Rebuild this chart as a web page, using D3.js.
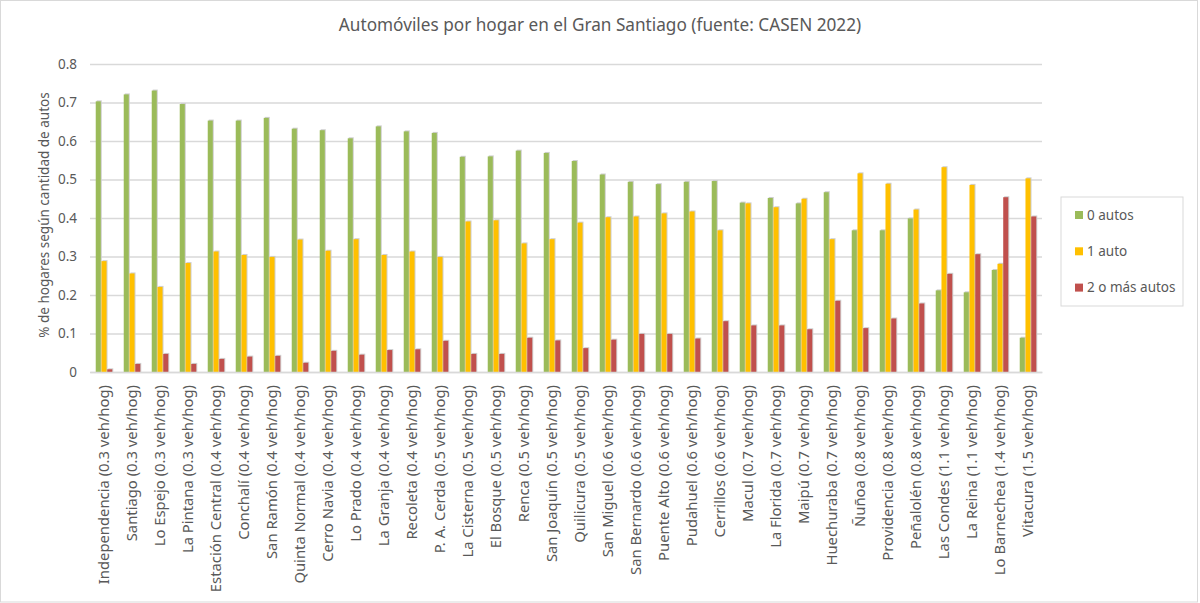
<!DOCTYPE html>
<meta charset="utf-8" />
<script src="https://d3js.org/d3.v7.min.js"></script>
<style>
  body { margin: 0; background: #fff; }
  text { font-family: "Noto Sans", "Open Sans", sans-serif; }
</style>
<div id="my_dataviz"></div>
<script>
  // data
  const comunas = [
    "Independencia (0.3 veh/hog)", "Santiago (0.3 veh/hog)", "Lo Espejo (0.3 veh/hog)",
    "La Pintana (0.3 veh/hog)", "Estación Central (0.4 veh/hog)", "Conchalí (0.4 veh/hog)",
    "San Ramón (0.4 veh/hog)", "Quinta Normal (0.4 veh/hog)", "Cerro Navia (0.4 veh/hog)",
    "Lo Prado (0.4 veh/hog)", "La Granja (0.4 veh/hog)", "Recoleta (0.4 veh/hog)",
    "P. A. Cerda (0.5 veh/hog)", "La Cisterna (0.5 veh/hog)", "El Bosque (0.5 veh/hog)",
    "Renca (0.5 veh/hog)", "San Joaquín (0.5 veh/hog)", "Quilicura (0.5 veh/hog)",
    "San Miguel (0.6 veh/hog)", "San Bernardo (0.6 veh/hog)", "Puente Alto (0.6 veh/hog)",
    "Pudahuel (0.6 veh/hog)", "Cerrillos (0.6 veh/hog)", "Macul (0.7 veh/hog)",
    "La Florida (0.7 veh/hog)", "Maipú (0.7 veh/hog)", "Huechuraba (0.7 veh/hog)",
    "Ñuñoa (0.8 veh/hog)", "Providencia (0.8 veh/hog)", "Peñalolén (0.8 veh/hog)",
    "Las Condes (1.1 veh/hog)", "La Reina (1.1 veh/hog)", "Lo Barnechea (1.4 veh/hog)",
    "Vitacura (1.5 veh/hog)"
  ];
  const autos0 = [0.703, 0.721, 0.731, 0.696, 0.653, 0.653, 0.660, 0.632, 0.628, 0.607,
    0.638, 0.625, 0.621, 0.559, 0.560, 0.575, 0.569, 0.548, 0.513, 0.494, 0.488, 0.494,
    0.496, 0.440, 0.452, 0.438, 0.467, 0.368, 0.368, 0.399, 0.212, 0.207, 0.265, 0.089];
  const autos1 = [0.288, 0.256, 0.221, 0.283, 0.313, 0.304, 0.299, 0.344, 0.315, 0.345,
    0.304, 0.313, 0.299, 0.391, 0.394, 0.334, 0.345, 0.388, 0.402, 0.404, 0.412, 0.417,
    0.368, 0.438, 0.428, 0.450, 0.345, 0.516, 0.489, 0.422, 0.532, 0.486, 0.281, 0.503];
  const autos2 = [0.007, 0.021, 0.047, 0.021, 0.034, 0.040, 0.042, 0.024, 0.055, 0.045,
    0.057, 0.059, 0.081, 0.047, 0.047, 0.089, 0.082, 0.062, 0.084, 0.099, 0.099, 0.087,
    0.132, 0.121, 0.121, 0.111, 0.185, 0.114, 0.139, 0.178, 0.255, 0.306, 0.454, 0.404];
  const seriesNames = ["0 autos", "1 auto", "2 o más autos"];
  const seriesColors = ["#9BBB59", "#FFC000", "#C0504D"];
  const yTicks = [0, 0.1, 0.2, 0.3, 0.4, 0.5, 0.6, 0.7, 0.8];

  const W = 1200, H = 603;
  const margin = { top: 64, right: 158, bottom: 231, left: 90 };

  const svg = d3.select("#my_dataviz").append("svg")
    .attr("width", W).attr("height", H);

  // chart border
  svg.append("rect")
    .attr("x", 0.5).attr("y", 0.5)
    .attr("width", W - 3).attr("height", H - 1.5)
    .attr("fill", "#fff").attr("stroke", "#d9d9d9");

  const g = svg.append("g").attr("transform", `translate(${margin.left},${margin.top})`);
  const width = W - margin.left - margin.right,
    height = H - margin.top - margin.bottom;

  const rows = comunas.map((c, i) => ({ comuna: c, values: [autos0[i], autos1[i], autos2[i]] }));

  const x0 = d3.scaleBand().domain(comunas).range([0, width]).paddingInner(0.36).paddingOuter(0.18);
  const x1 = d3.scaleBand().domain([0, 1, 2]).range([0, x0.bandwidth()]).padding(0.12);
  const y = d3.scaleLinear().domain([0, 0.8]).range([height, 0]);

  // gridlines
  g.append("g")
    .call(d3.axisLeft(y).tickValues(yTicks).tickSize(-width).tickFormat(""))
    .call(a => a.select(".domain").remove())
    .selectAll("line").attr("stroke", "#d9d9d9").attr("stroke-width", 1.3);

  // y labels
  g.append("g")
    .call(d3.axisLeft(y).tickValues(yTicks).tickSize(0).tickPadding(13)
      .tickFormat(d => d === 0 ? "0" : d3.format(".1f")(d)))
    .call(a => a.select(".domain").remove())
    .selectAll("text").attr("fill", "#595959").style("font-size", "13.5px");

  // bars (with the faint grey shadow of the original)
  const groups = g.selectAll(".grp").data(rows).join("g")
    .attr("class", "grp")
    .attr("transform", d => `translate(${x0(d.comuna)},0)`);

  groups.selectAll(".shadow").data(d => d.values).join("rect")
    .attr("class", "shadow")
    .attr("x", (d, i) => x1(i) + 1)
    .attr("y", d => y(d) - 1)
    .attr("width", x1.bandwidth())
    .attr("height", d => height - y(d) + 1)
    .attr("fill", "#cfcfcf");

  groups.selectAll(".bar").data(d => d.values).join("rect")
    .attr("class", "bar")
    .attr("x", (d, i) => x1(i))
    .attr("y", d => y(d))
    .attr("width", x1.bandwidth())
    .attr("height", d => height - y(d))
    .attr("fill", (d, i) => seriesColors[i]);

  // x axis
  const xAxis = g.append("g")
    .attr("transform", `translate(0,${height})`)
    .call(d3.axisBottom(x0).tickSize(0).tickPadding(0));
  xAxis.select(".domain").attr("stroke", "#d9d9d9").attr("stroke-width", 1.3);
  xAxis.selectAll("text")
    .attr("fill", "#595959")
    .style("font-size", "14.8px")
    .attr("text-anchor", "end")
    .attr("dy", "0.35em")
    .attr("transform", "translate(0,13) rotate(-90)");

  // title
  svg.append("text")
    .attr("x", 600).attr("y", 31)
    .attr("text-anchor", "middle")
    .attr("fill", "#595959")
    .style("font-size", "17.2px")
    .text("Automóviles por hogar en el Gran Santiago (fuente: CASEN 2022)");

  // y title
  svg.append("text")
    .attr("transform", "translate(49,215) rotate(-90)")
    .attr("text-anchor", "middle")
    .attr("fill", "#595959")
    .style("font-size", "13.5px")
    .text("% de hogares según cantidad de autos");

  // legend
  const legend = svg.append("g").attr("transform", "translate(1061,197)");
  legend.append("rect")
    .attr("width", 122).attr("height", 109)
    .attr("fill", "#fff").attr("stroke", "#d9d9d9");
  const li = legend.selectAll(".li").data(seriesNames).join("g")
    .attr("transform", (d, i) => `translate(14,${18 + i * 36.3})`);
  li.append("rect")
    .attr("x", 0).attr("y", -4).attr("width", 8).attr("height", 8)
    .attr("fill", (d, i) => seriesColors[i]);
  li.append("text")
    .attr("x", 12).attr("dy", "0.35em")
    .attr("fill", "#595959")
    .style("font-size", "13.5px")
    .text(d => d);
</script>
